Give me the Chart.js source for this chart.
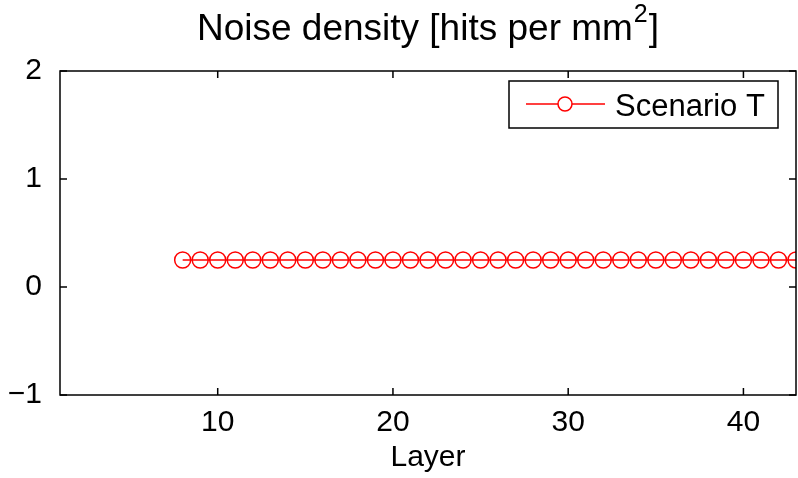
<!DOCTYPE html>
<html lang="en">
<head>
    <meta charset="UTF-8">
    <title>Noise density</title>
    <script src="https://cdn.jsdelivr.net/npm/chart.js@4.4.1/dist/chart.umd.min.js"></script>
    <style>
        body {
            margin: 0;
            background-color: #ffffff;
        }
        #wrap {
            width: 798px;
            height: 478px;
        }
    </style>
</head>
<body>
    <div id="wrap">
        <canvas id="noiseChart" width="798" height="478"></canvas>
    </div>

    <script>
        const FONT = '"Liberation Sans", Arial, Helvetica, sans-serif';

        // Layer numbers and noise density per layer
        const layers = [8, 9, 10, 11, 12, 13, 14, 15, 16, 17, 18, 19, 20, 21, 22, 23, 24, 25,
                        26, 27, 28, 29, 30, 31, 32, 33, 34, 35, 36, 37, 38, 39, 40, 41, 42, 43];
        const density = [0.25, 0.25, 0.25, 0.25, 0.25, 0.25, 0.25, 0.25, 0.25, 0.25, 0.25, 0.25,
                         0.25, 0.25, 0.25, 0.25, 0.25, 0.25, 0.25, 0.25, 0.25, 0.25, 0.25, 0.25,
                         0.25, 0.25, 0.25, 0.25, 0.25, 0.25, 0.25, 0.25, 0.25, 0.25, 0.25, 0.25];

        // Axis ranges and tick values
        const xRange = [1, 43];
        const yRange = [-1, 2];
        const xTicks = [10, 20, 30, 40];
        const yTicks = [-1, 0, 1, 2];

        const seriesLabel = 'Scenario T';
        const seriesColor = '#ff0000';

        // Title with a superscript, drawn above the plot box
        const titlePlugin = {
            id: 'supTitle',
            afterDraw(chart) {
                const ctx = chart.ctx;
                const area = chart.chartArea;
                const main = 'Noise density [hits per mm';
                const sup = '2';
                const tail = ']';
                ctx.save();
                ctx.fillStyle = '#000';
                ctx.textBaseline = 'alphabetic';
                ctx.font = '37px ' + FONT;
                const wMain = ctx.measureText(main).width;
                const wTail = ctx.measureText(tail).width;
                ctx.font = '25px ' + FONT;
                const wSup = ctx.measureText(sup).width;
                const total = wMain + wSup + 2 + wTail;
                let x = (area.left + area.right) / 2 - total / 2;
                const base = 40;
                ctx.textAlign = 'left';
                ctx.font = '37px ' + FONT;
                ctx.fillText(main, x, base);
                x += wMain + 1;
                ctx.font = '25px ' + FONT;
                ctx.fillText(sup, x, base - 18);
                x += wSup + 1;
                ctx.font = '37px ' + FONT;
                ctx.fillText(tail, x, base);
                ctx.restore();
            }
        };

        // Closed axes box with inward ticks on all four sides
        const boxPlugin = {
            id: 'axesBox',
            afterDatasetsDraw(chart) {
                const ctx = chart.ctx;
                const a = chart.chartArea;
                const xs = chart.scales.x;
                const ys = chart.scales.y;
                const len = 7;
                ctx.save();
                ctx.strokeStyle = '#000';
                ctx.lineWidth = 1.5;
                ctx.strokeRect(a.left, a.top, a.right - a.left, a.bottom - a.top);
                ctx.beginPath();
                xTicks.forEach(v => {
                    const px = xs.getPixelForValue(v);
                    ctx.moveTo(px, a.bottom);
                    ctx.lineTo(px, a.bottom - len);
                    ctx.moveTo(px, a.top);
                    ctx.lineTo(px, a.top + len);
                });
                yTicks.forEach(v => {
                    const py = ys.getPixelForValue(v);
                    ctx.moveTo(a.left, py);
                    ctx.lineTo(a.left + len, py);
                    ctx.moveTo(a.right, py);
                    ctx.lineTo(a.right - len, py);
                });
                ctx.stroke();
                ctx.restore();
            }
        };

        // Boxed legend in the upper right corner of the plot
        const legendPlugin = {
            id: 'boxLegend',
            afterDraw(chart) {
                const ctx = chart.ctx;
                const ds = chart.data.datasets[0];
                const bx = 509, by = 81, bw = 269, bh = 47;
                const ly = by + 23;
                ctx.save();
                ctx.fillStyle = '#fff';
                ctx.fillRect(bx, by, bw, bh);
                ctx.strokeStyle = '#000';
                ctx.lineWidth = 1.5;
                ctx.strokeRect(bx, by, bw, bh);
                ctx.strokeStyle = ds.borderColor;
                ctx.lineWidth = 1.5;
                ctx.beginPath();
                ctx.moveTo(bx + 17, ly);
                ctx.lineTo(bx + 96, ly);
                ctx.stroke();
                ctx.fillStyle = '#fff';
                ctx.beginPath();
                ctx.arc(bx + 56, ly, 7, 0, Math.PI * 2);
                ctx.fill();
                ctx.stroke();
                ctx.fillStyle = '#000';
                ctx.font = '31px ' + FONT;
                ctx.textAlign = 'left';
                ctx.textBaseline = 'alphabetic';
                ctx.fillText(ds.label, bx + 106, by + 35);
                ctx.restore();
            }
        };

        new Chart(document.getElementById('noiseChart'), {
            type: 'line',
            data: {
                datasets: [{
                    label: seriesLabel,
                    data: layers.map((l, i) => ({ x: l, y: density[i] })),
                    borderColor: seriesColor,
                    borderWidth: 1.5,
                    pointStyle: 'circle',
                    pointRadius: 8,
                    pointBorderWidth: 1.5,
                    pointBorderColor: seriesColor,
                    pointBackgroundColor: 'rgba(0,0,0,0)',
                    fill: false,
                    tension: 0,
                    clip: 0
                }]
            },
            plugins: [titlePlugin, boxPlugin, legendPlugin],
            options: {
                responsive: false,
                animation: false,
                devicePixelRatio: 1,
                layout: {
                    autoPadding: false,
                    padding: { top: 71, right: 2, left: 0, bottom: 0 }
                },
                plugins: {
                    legend: { display: false },
                    title: { display: false },
                    tooltip: { enabled: false }
                },
                scales: {
                    x: {
                        type: 'linear',
                        min: xRange[0],
                        max: xRange[1],
                        grid: { display: false },
                        border: { display: false },
                        afterBuildTicks: scale => {
                            scale.ticks = xTicks.map(v => ({ value: v }));
                        },
                        afterFit: scale => {
                            scale.height = 83;
                            scale.paddingLeft = 0;
                            scale.paddingRight = 0;
                        },
                        ticks: {
                            color: '#000',
                            padding: 2,
                            maxRotation: 0,
                            font: { family: FONT, size: 30 }
                        },
                        title: {
                            display: true,
                            text: 'Layer',
                            color: '#000',
                            padding: { top: 0, bottom: 2 },
                            font: { family: FONT, size: 30 }
                        }
                    },
                    y: {
                        min: yRange[0],
                        max: yRange[1],
                        grid: { display: false },
                        border: { display: false },
                        afterBuildTicks: scale => {
                            scale.ticks = yTicks.map(v => ({ value: v }));
                        },
                        afterFit: scale => {
                            scale.width = 60;
                            scale.paddingTop = 0;
                            scale.paddingBottom = 0;
                        },
                        ticks: {
                            color: '#000',
                            padding: 10,
                            font: { family: FONT, size: 30 },
                            callback: v => String(v).replace('-', '\u2212')
                        }
                    }
                }
            }
        });
    </script>
</body>
</html>
